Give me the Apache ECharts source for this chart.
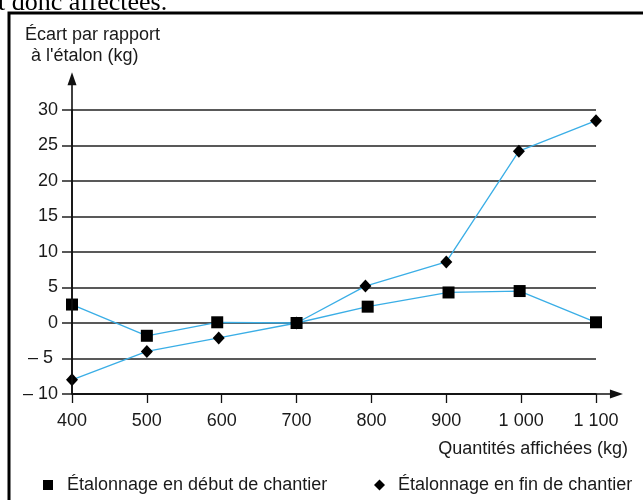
<!DOCTYPE html>
<html>
<head>
<meta charset="utf-8">
<script src="https://cdn.jsdelivr.net/npm/echarts@6/dist/echarts.min.js"></script>
<style>
html,body{margin:0;padding:0;background:#fff;}
#c{width:643px;height:500px;}
</style>
</head>
<body>
<div id="c"></div>
<script>
// ---- data ----
const xDebut = [400, 500, 594, 700, 795, 903, 998, 1100];
const yDebut = [2.6, -1.8, 0.1, 0, 2.3, 4.3, 4.5, 0.1];
const xFin = [400, 500, 596, 700, 792, 900, 997, 1100];
const yFin = [-8.0, -4.0, -2.1, 0, 5.2, 8.6, 24.2, 28.5];
const seriesNames = ['Étalonnage en début de chantier', 'Étalonnage en fin de chantier'];
const xTickLabels = {400:'400',500:'500',600:'600',700:'700',800:'800',900:'900',1000:'1 000',1100:'1 100'};
const yTickLabels = {'-10':'– 10','-5':'– 5 ','0':'0','5':'5','10':'10','15':'15','20':'20','25':'25','30':'30'};
const yAxisTitle = ['Écart par rapport', "à l'étalon (kg)"];
const xAxisTitle = 'Quantités affichées (kg)';
const topText = 't donc affectées.';

const FONT = 'Liberation Sans, Arial, sans-serif';
const TXT = '#1a1a1a';
const chart = echarts.init(document.getElementById('c'), null, {renderer:'canvas'});

const option = {
  animation: false,
  backgroundColor: '#fff',
  grid: {left: 72, right: 47, top: 110, bottom: 106},
  xAxis: {
    type: 'value', min: 400, max: 1100, interval: 100,
    axisLine: {show: true, onZero: false, lineStyle: {color: '#111', width: 1.6}},
    axisTick: {show: true, length: 9, lineStyle: {color: '#111', width: 1.3}},
    axisLabel: {margin: 18, color: TXT, fontFamily: FONT, fontSize: 18,
      formatter: v => xTickLabels[v] || ''},
    splitLine: {show: false}
  },
  yAxis: {
    type: 'value', min: -10, max: 30, interval: 5,
    axisLine: {show: true, onZero: false, lineStyle: {color: '#111', width: 1.6}},
    axisTick: {show: true, length: 10, lineStyle: {color: '#222', width: 1.5}},
    axisLabel: {margin: 14, color: TXT, fontFamily: FONT, fontSize: 18,
      formatter: v => yTickLabels[String(v)] || ''},
    splitLine: {show: true, lineStyle: {color: '#222', width: 1.5}}
  },
  legend: [
    {data: [{name: seriesNames[0], icon: 'rect'}], left: 38, top: 471,
     itemWidth: 10, itemHeight: 10,
     textStyle: {color: TXT, fontFamily: FONT, fontSize: 18, padding: [0,0,0,9]}},
    {data: [{name: seriesNames[1], icon: 'diamond'}], left: 369, top: 471,
     itemWidth: 11, itemHeight: 11,
     textStyle: {color: TXT, fontFamily: FONT, fontSize: 18, padding: [0,0,0,8]}}
  ],
  series: [
    {name: seriesNames[0], type: 'line', clip: false,
     data: xDebut.map((x, i) => [x, yDebut[i]]),
     symbol: 'rect', symbolSize: 12,
     itemStyle: {color: '#000'},
     lineStyle: {color: '#3aaee6', width: 1.3}, z: 3},
    {name: seriesNames[1], type: 'line', clip: false,
     data: xFin.map((x, i) => [x, yFin[i]]),
     symbol: 'diamond', symbolSize: [12, 13],
     itemStyle: {color: '#000'},
     lineStyle: {color: '#3aaee6', width: 1.3}, z: 3}
  ]
};
chart.setOption(option);

// decorative axis extensions with arrows and texts
const o = chart.convertToPixel({gridIndex: 0}, [400, -10]);
const xEnd = chart.convertToPixel({gridIndex: 0}, [1136, -10]);
const yEnd = chart.convertToPixel({gridIndex: 0}, [400, 35.3]);
const ax = o[0], ay = o[1];
chart.setOption({
  graphic: [
    {type: 'polyline', shape: {points: [[9, 500], [9, 13], [643, 13]]},
     style: {stroke: '#000', lineWidth: 3, fill: null}, z: 10},
    {type: 'text', left: -2, top: -10,
     style: {text: topText, font: '26px "Liberation Serif", "Times New Roman", serif', fill: '#000'}, z: 10},
    {type: 'line', shape: {x1: ax, y1: ay, x2: xEnd[0] - 8, y2: ay},
     style: {stroke: '#111', lineWidth: 1.6}, z: 5},
    {type: 'polygon', shape: {points: [[xEnd[0], ay], [xEnd[0] - 13, ay - 4.5], [xEnd[0] - 13, ay + 4.5]]},
     style: {fill: '#111'}, z: 5},
    {type: 'line', shape: {x1: ax, y1: ay, x2: ax, y2: yEnd[1] + 8},
     style: {stroke: '#111', lineWidth: 1.6}, z: 5},
    {type: 'polygon', shape: {points: [[ax, yEnd[1]], [ax - 4.5, yEnd[1] + 13], [ax + 4.5, yEnd[1] + 13]]},
     style: {fill: '#111'}, z: 5},
    {type: 'text', left: 25, top: 26,
     style: {text: yAxisTitle[0], font: '18px ' + FONT, fill: TXT}, z: 10},
    {type: 'text', left: 31, top: 47,
     style: {text: yAxisTitle[1], font: '18px ' + FONT, fill: TXT}, z: 10},
    {type: 'text', right: 15, top: 440,
     style: {text: xAxisTitle, font: '18px ' + FONT, fill: TXT}, z: 10}
  ]
});
</script>
</body>
</html>
